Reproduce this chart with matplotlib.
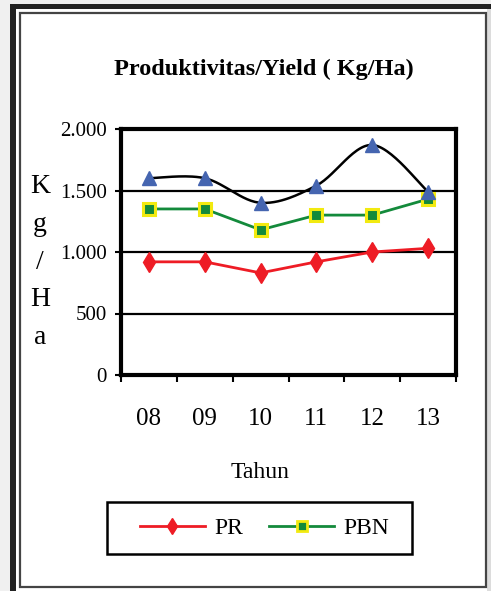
import numpy as np
import matplotlib
matplotlib.use("Agg")
import matplotlib.pyplot as plt
from matplotlib.patches import Rectangle
from matplotlib.lines import Line2D

years = ["08", "09", "10", "11", "12", "13"]
pr_values = [920, 920, 830, 920, 1000, 1030]
pbn_values = [1350, 1350, 1180, 1300, 1300, 1430]
total_values = [1600, 1600, 1400, 1540, 1870, 1490]
y_ticks = [0, 500, 1000, 1500, 2000]
y_tick_labels = ["0", "500", "1.000", "1.500", "2.000"]
title = "Produktivitas/Yield ( Kg/Ha)"
x_label = "Tahun"
y_label_letters = ["K", "g", "/", "H", "a"]

RED = "#ee1c25"
GREEN = "#138a3b"
YELLOW = "#f2ea10"
BLUE = "#4565b0"
SERIF = ["Liberation Serif", "DejaVu Serif"]

W, H = 491, 591
fig = plt.figure(figsize=(W / 100, H / 100), dpi=100)
fig.patch.set_facecolor("white")


def frect(x0, y0, x1, y1, **kw):
    # pixel coords from top-left
    fig.patches.append(Rectangle((x0 / W, 1 - y1 / H), (x1 - x0) / W, (y1 - y0) / H,
                                 transform=fig.transFigure, **kw))


# outer decoration
frect(0, 0, 10, H, facecolor="#f0f0f0", edgecolor="none")
frect(0, 0, W, 4, facecolor="#f0f0f0", edgecolor="none")
frect(487, 4, W, H, facecolor="#dcdcdc", edgecolor="none")
frect(10, 4, W, 9, facecolor="#222222", edgecolor="none")
frect(10, 4, 16, H, facecolor="#222222", edgecolor="none")
frect(20, 13, 486, 587, facecolor="none", edgecolor="#444444", linewidth=1.6)

ax = fig.add_axes([121 / W, 1 - 375 / H, (456 - 121) / W, (375 - 129) / H])
x = np.arange(len(years))

# smooth (Catmull-Rom) curve for the total series
def catmull(xs, ys, n=30):
    px = np.concatenate([[xs[0]], xs, [xs[-1]]]).astype(float)
    py = np.concatenate([[ys[0]], ys, [ys[-1]]]).astype(float)
    outx, outy = [], []
    t = np.linspace(0, 1, n)
    for i in range(1, len(px) - 2):
        p0, p1, p2, p3 = [np.array([px[j], py[j]]) for j in (i - 1, i, i + 1, i + 2)]
        c1 = p1 + (p2 - p0) / 6
        c2 = p2 - (p3 - p1) / 6
        b = ((1 - t) ** 3)[:, None] * p1 + (3 * (1 - t) ** 2 * t)[:, None] * c1 + \
            (3 * (1 - t) * t ** 2)[:, None] * c2 + (t ** 3)[:, None] * p2
        outx.extend(b[:, 0]); outy.extend(b[:, 1])
    return np.array(outx), np.array(outy)

sx, sy = catmull(x, np.array(total_values))
ax.plot(sx, sy, color="black", linewidth=1.8, zorder=3)
ax.plot(x, total_values, linestyle="none", marker="^", markersize=10,
        markerfacecolor=BLUE, markeredgecolor=BLUE, zorder=4)

ax.plot(x, pbn_values, color=GREEN, linewidth=2.0, marker="s", markersize=8,
        markerfacecolor=GREEN, markeredgecolor=YELLOW, markeredgewidth=2.2, zorder=3)
ax.plot(x, pr_values, color=RED, linewidth=2.0, marker="d", markersize=10,
        markerfacecolor=RED, markeredgecolor=RED, zorder=3)

ax.set_xlim(-0.5, len(years) - 0.5)
ax.set_ylim(0, 2000)
for v in y_ticks[1:-1]:
    ax.axhline(v, color="black", linewidth=1.6, zorder=1)

for s in ax.spines.values():
    s.set_linewidth(3.0)
    s.set_color("black")

ax.set_yticks(y_ticks)
ax.set_yticklabels(y_tick_labels, fontfamily=SERIF, fontsize=15)
ax.tick_params(axis="y", direction="out", length=4, width=1.5, pad=6)

ax.set_xticks(np.arange(-0.5, len(years), 1.0))
ax.set_xticklabels([])
ax.tick_params(axis="x", which="major", direction="out", length=5, width=1.5)
ax.set_xticks(x, minor=True)
ax.set_xticklabels(years, minor=True, fontfamily=SERIF, fontsize=18)
ax.tick_params(axis="x", which="minor", length=0, pad=24)

fig.text(264 / W, 1 - 69 / H, title, ha="center", va="center",
         fontfamily=SERIF, fontweight="bold", fontsize=17.5)
fig.text(260 / W, 1 - 472 / H, x_label, ha="center", va="center",
         fontfamily=SERIF, fontsize=17)
fig.text(40 / W, 1 - 262 / H, "\n".join(y_label_letters), ha="center", va="center",
         multialignment="center", fontfamily=SERIF, fontsize=20, linespacing=1.68)

# legend (frame drawn separately to match the wide box)
frect(107, 502, 412, 554, facecolor="white", edgecolor="black", linewidth=1.8, zorder=5)
handles = [
    Line2D([], [], color=RED, linewidth=2.0, marker="d", markersize=8,
           markerfacecolor=RED, markeredgecolor=RED),
    Line2D([], [], color=GREEN, linewidth=2.0, marker="s", markersize=7,
           markerfacecolor=GREEN, markeredgecolor=YELLOW, markeredgewidth=2.0),
]
leg = fig.legend(handles, ["PR", "PBN"], loc="center left",
                 bbox_to_anchor=(140 / W, 1 - 528 / H),
                 ncol=2, frameon=False, handlelength=2.75, columnspacing=1.1,
                 borderpad=0.0, borderaxespad=0.0, handletextpad=0.4,
                 prop={"family": SERIF, "size": 17})
leg.set_zorder(6)

fig.savefig("out.png", dpi=100, facecolor=fig.get_facecolor())
